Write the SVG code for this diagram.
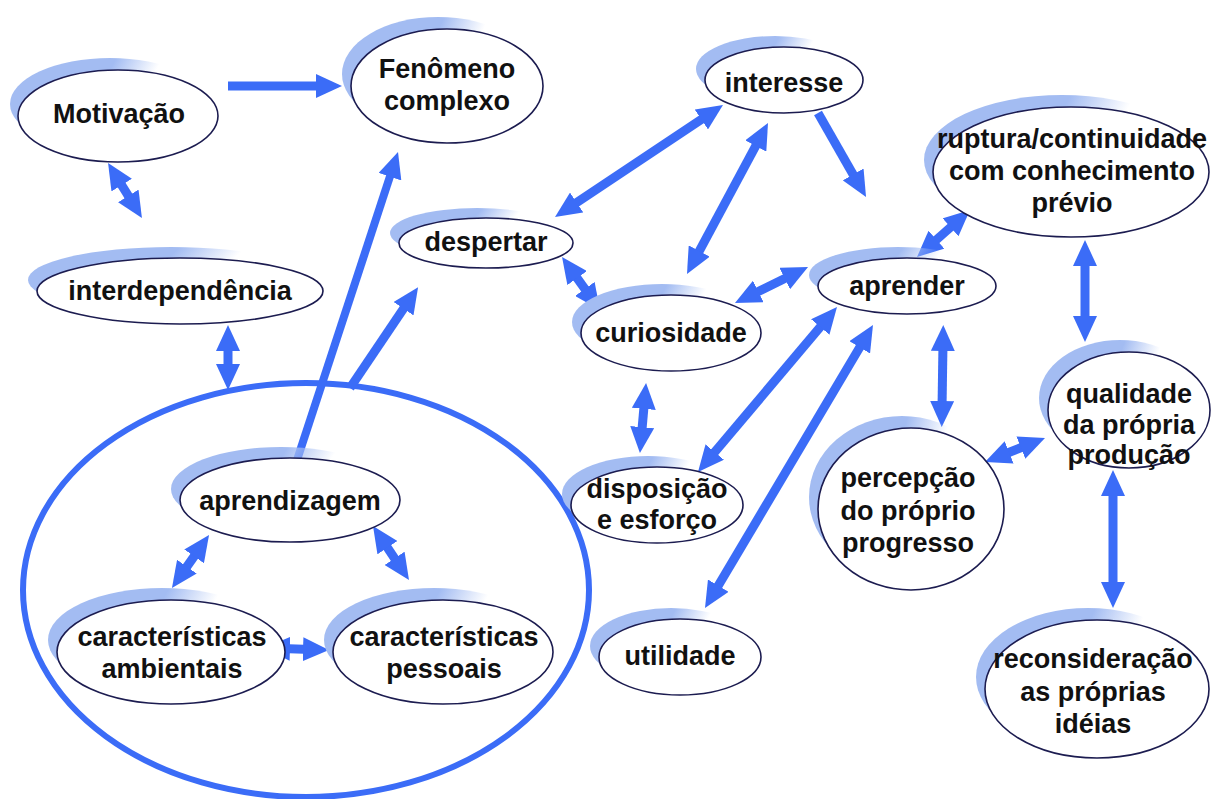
<svg xmlns="http://www.w3.org/2000/svg" width="1216" height="799" viewBox="0 0 1216 799">
<style>
.sh{fill:url(#sg)}
.el{fill:#fff;stroke:#1c1c50;stroke-width:1.6}
.t{font-family:"Liberation Sans",Arial,sans-serif;font-weight:bold;font-size:27px;text-anchor:middle;fill:#111}
.c line{stroke:#3b6cf7;stroke-width:9;fill:none}
.s{marker-end:url(#ah)}
.d{marker-start:url(#ah);marker-end:url(#ah)}
</style>
<defs>
<linearGradient id="sg" x1="0" y1="0" x2="1" y2="0.25">
<stop offset="0" stop-color="#a3bcf2"/>
<stop offset="0.5" stop-color="#a3bcf2"/>
<stop offset="0.72" stop-color="#a3bcf2" stop-opacity="0"/>
</linearGradient>
<marker id="ah" viewBox="0 0 26 24" refX="8" refY="12" markerWidth="26" markerHeight="24" markerUnits="userSpaceOnUse" orient="auto-start-reverse">
<path d="M0,0 L26,12 L0,24 z" fill="#3b6cf7"/>
</marker>
</defs>
<rect width="1216" height="799" fill="#fff"/>
<ellipse id="grupo" cx="306" cy="590" rx="283" ry="207" fill="none" stroke="#3b6cf7" stroke-width="6"/>
<g class="c">
<line class="s" x1="228" y1="86" x2="324" y2="86"/>
<line class="d" x1="117.5" y1="178.3" x2="132.5" y2="202.7"/>
<line class="d" x1="228" y1="343" x2="228" y2="372"/>
<line class="s" x1="297" y1="460" x2="392.4" y2="169.1" style="stroke-width:8"/>
<line class="s" x1="350" y1="388" x2="408" y2="302.1"/>
<line class="d" x1="570" y1="207" x2="708" y2="115"/>
<line class="d" x1="759.5" y1="138.9" x2="695.5" y2="258.1"/>
<line class="s" x1="818" y1="113" x2="857.1" y2="181.4"/>
<line class="d" x1="572.5" y1="271.6" x2="589.5" y2="295.4"/>
<line class="d" x1="751.1" y1="295" x2="791.9" y2="275"/>
<line class="d" x1="644.5" y1="400.9" x2="641.5" y2="435.1"/>
<line class="d" x1="825.4" y1="320.8" x2="709.6" y2="458.2"/>
<line class="d" x1="863.8" y1="340.5" x2="714.2" y2="592.5"/>
<line class="d" x1="943" y1="343" x2="942" y2="409"/>
<line class="d" x1="930.5" y1="245" x2="956.5" y2="222"/>
<line class="d" x1="1085" y1="258" x2="1085" y2="324"/>
<line class="d" x1="1001.7" y1="455.3" x2="1028.3" y2="444.7"/>
<line class="d" x1="1113" y1="488" x2="1113" y2="590"/>
<line class="d" x1="198.7" y1="549.8" x2="182.3" y2="573.2"/>
<line class="d" x1="383" y1="541" x2="399" y2="565"/>
<line class="d" x1="282" y1="648.5" x2="311" y2="649.5"/>
</g>
<g id="motivacao"><ellipse class="sh" cx="110" cy="104" rx="100" ry="46"/><ellipse class="el" cx="118" cy="116" rx="100" ry="46"/><text class="t" x="119" y="123">Motivação</text></g>
<g id="fenomeno"><ellipse class="sh" cx="438" cy="74" rx="96" ry="57"/><ellipse class="el" cx="447" cy="86" rx="96" ry="57"/><text class="t" x="447" y="78">Fenômeno</text><text class="t" x="447" y="110">complexo</text></g>
<g id="interesse"><ellipse class="sh" cx="775" cy="69" rx="79" ry="33"/><ellipse class="el" cx="784" cy="80" rx="79" ry="33"/><text class="t" x="784" y="92">interesse</text></g>
<g id="despertar"><ellipse class="sh" cx="477" cy="233" rx="87" ry="25"/><ellipse class="el" cx="486" cy="243" rx="87" ry="25"/><text class="t" x="486" y="251">despertar</text></g>
<g id="interdependencia"><ellipse class="sh" cx="171" cy="280" rx="143" ry="33"/><ellipse class="el" cx="180" cy="291" rx="143" ry="33"/><text class="t" x="180" y="300">interdependência</text></g>
<g id="curiosidade"><ellipse class="sh" cx="662" cy="322" rx="90" ry="38"/><ellipse class="el" cx="671" cy="333" rx="90" ry="38"/><text class="t" x="671" y="342">curiosidade</text></g>
<g id="aprender"><ellipse class="sh" cx="898" cy="275" rx="89" ry="28"/><ellipse class="el" cx="907" cy="286" rx="89" ry="28"/><text class="t" x="907" y="295">aprender</text></g>
<g id="ruptura"><ellipse class="sh" cx="1062" cy="160" rx="138" ry="65"/><ellipse class="el" cx="1071" cy="172" rx="138" ry="65"/><text class="t" x="1072" y="148">ruptura/continuidade</text><text class="t" x="1072" y="180">com conhecimento</text><text class="t" x="1072" y="212">prévio</text></g>
<g id="qualidade"><ellipse class="sh" cx="1120" cy="398" rx="81" ry="58"/><ellipse class="el" cx="1129" cy="410" rx="81" ry="58"/><text class="t" x="1129" y="403">qualidade</text><text class="t" x="1129" y="434">da própria</text><text class="t" x="1129" y="464">produção</text></g>
<g id="percepcao"><ellipse class="sh" cx="902" cy="497" rx="93" ry="81"/><ellipse class="el" cx="911" cy="509" rx="93" ry="81"/><text class="t" x="908" y="487">percepção</text><text class="t" x="908" y="520">do próprio</text><text class="t" x="908" y="552">progresso</text></g>
<g id="disposicao"><ellipse class="sh" cx="648" cy="494" rx="86" ry="38"/><ellipse class="el" cx="657" cy="505" rx="86" ry="38"/><text class="t" x="657" y="498">disposição</text><text class="t" x="657" y="529">e esforço</text></g>
<g id="utilidade"><ellipse class="sh" cx="671" cy="646" rx="81" ry="38"/><ellipse class="el" cx="680" cy="657" rx="81" ry="38"/><text class="t" x="680" y="665">utilidade</text></g>
<g id="reconsideracao"><ellipse class="sh" cx="1088" cy="677" rx="112" ry="69"/><ellipse class="el" cx="1097" cy="689" rx="112" ry="69"/><text class="t" x="1093" y="668">reconsideração</text><text class="t" x="1093" y="701">as próprias</text><text class="t" x="1093" y="733">idéias</text></g>
<g id="aprendizagem"><ellipse class="sh" cx="281" cy="489" rx="110" ry="42"/><ellipse class="el" cx="290" cy="500" rx="110" ry="42"/><text class="t" x="290" y="510">aprendizagem</text></g>
<g id="ambientais"><ellipse class="sh" cx="162" cy="640" rx="114" ry="52"/><ellipse class="el" cx="171" cy="652" rx="114" ry="52"/><text class="t" x="172" y="646">características</text><text class="t" x="172" y="678">ambientais</text></g>
<g id="pessoais"><ellipse class="sh" cx="434" cy="640" rx="110" ry="52"/><ellipse class="el" cx="443" cy="652" rx="110" ry="52"/><text class="t" x="444" y="646">características</text><text class="t" x="444" y="678">pessoais</text></g>
</svg>
